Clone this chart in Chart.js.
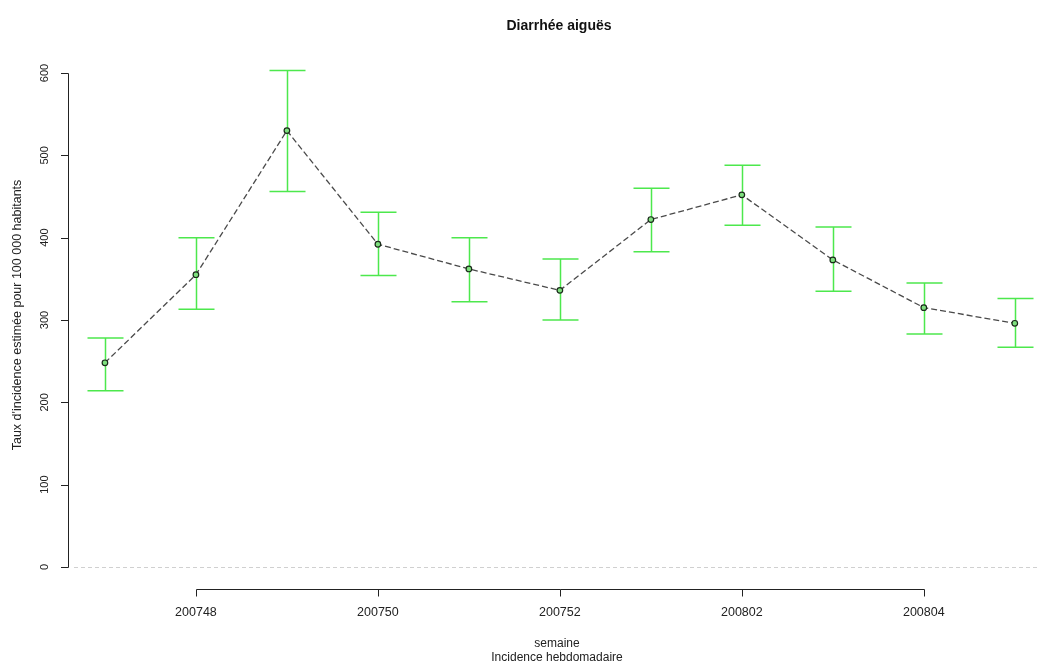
<!DOCTYPE html>
<html>
<head>
<meta charset="utf-8">
<script src="https://cdn.jsdelivr.net/npm/chart.js@4"></script>
<style>
  html, body { margin: 0; padding: 0; background: #fff; }
  #wrap { width: 1037px; height: 664px; }
</style>
</head>
<body>
<div id="wrap"><canvas id="chart"></canvas></div>
<script>
// data
const weeks = ['200747', '200748', '200749', '200750', '200751', '200752', '200801', '200802', '200803', '200804', '200805'];
const rate = [248, 355, 530, 392, 362, 336, 422, 452, 373, 315, 296];
const upper = [278, 400, 603, 431, 400, 374, 460, 488, 413, 345, 326];
const lower = [214, 313, 456, 354, 322, 300, 383, 415, 335, 283, 267];
const xTickLabels = ['200748', '200750', '200752', '200802', '200804'];
const yTicks = [0, 100, 200, 300, 400, 500, 600];

const title = 'Diarrhée aiguës';
const yTitle = "Taux d'incidence estimée pour 100 000 habitants";
const xTitle1 = 'semaine';
const xTitle2 = 'Incidence hebdomadaire';

const FONT = '"Liberation Sans", Arial, sans-serif';

// R style axes, error bars and titles
const rPlot = {
  id: 'rPlot',
  beforeDatasetsDraw(chart) {
    const ctx = chart.ctx;
    const x = chart.scales.x, y = chart.scales.y;
    ctx.save();
    // dashed zero line
    ctx.strokeStyle = '#d0d0d0';
    ctx.lineWidth = 1;
    ctx.setLineDash([4, 3]);
    ctx.beginPath();
    ctx.moveTo(chart.chartArea.left + 6, Math.round(y.getPixelForValue(0)) + 0.5);
    ctx.lineTo(1037, Math.round(y.getPixelForValue(0)) + 0.5);
    ctx.stroke();
    ctx.setLineDash([]);

    // error bars
    ctx.strokeStyle = '#4de84d';
    ctx.lineWidth = 1.5;
    weeks.forEach((w, i) => {
      const px = Math.round(x.getPixelForValue(i)) + 0.5;
      const top = y.getPixelForValue(upper[i]);
      const bot = y.getPixelForValue(lower[i]);
      ctx.beginPath();
      ctx.moveTo(px, top); ctx.lineTo(px, bot);
      ctx.moveTo(px - 18, top); ctx.lineTo(px + 18, top);
      ctx.moveTo(px - 18, bot); ctx.lineTo(px + 18, bot);
      ctx.stroke();
    });
    ctx.restore();
  },
  afterDraw(chart) {
    const ctx = chart.ctx;
    const x = chart.scales.x, y = chart.scales.y;
    const left = chart.chartArea.left;
    const bottom = chart.chartArea.bottom;
    ctx.save();
    ctx.strokeStyle = '#222';
    ctx.fillStyle = '#222';
    ctx.lineWidth = 1;

    // y axis
    const y0 = Math.round(y.getPixelForValue(yTicks[0])) + 0.5;
    const y1 = Math.round(y.getPixelForValue(yTicks[yTicks.length - 1])) + 0.5;
    ctx.beginPath();
    ctx.moveTo(left + 0.5, y0); ctx.lineTo(left + 0.5, y1);
    yTicks.forEach(v => {
      const py = Math.round(y.getPixelForValue(v)) + 0.5;
      ctx.moveTo(left + 0.5, py); ctx.lineTo(left - 7, py);
    });
    ctx.stroke();
    ctx.font = '11px ' + FONT;
    ctx.textAlign = 'center';
    ctx.textBaseline = 'middle';
    yTicks.forEach(v => {
      const py = y.getPixelForValue(v);
      ctx.save();
      ctx.translate(left - 23, py);
      ctx.rotate(-Math.PI / 2);
      ctx.fillText(String(v), 0, 0);
      ctx.restore();
    });

    // x axis
    const idx = xTickLabels.map(l => weeks.indexOf(l));
    const ax = Math.round(bottom + 2) + 0.5;
    ctx.beginPath();
    ctx.moveTo(Math.round(x.getPixelForValue(idx[0])) + 0.5, ax);
    ctx.lineTo(Math.round(x.getPixelForValue(idx[idx.length - 1])) + 0.5, ax);
    idx.forEach(i => {
      const px = Math.round(x.getPixelForValue(i)) + 0.5;
      ctx.moveTo(px, ax); ctx.lineTo(px, ax + 7);
    });
    ctx.stroke();
    ctx.font = '12.5px ' + FONT;
    idx.forEach((i, k) => {
      ctx.fillText(xTickLabels[k], x.getPixelForValue(i), ax + 23);
    });

    // axis titles
    ctx.font = '12px ' + FONT;
    ctx.fillText(xTitle1, 557, 644);
    ctx.fillText(xTitle2, 557, 658);
    ctx.font = '12.5px ' + FONT;
    ctx.save();
    ctx.translate(18, 315);
    ctx.rotate(-Math.PI / 2);
    ctx.fillText(yTitle, 0, 0);
    ctx.restore();

    // main title
    ctx.font = 'bold 14px ' + FONT;
    ctx.fillStyle = '#111';
    ctx.fillText(title, 559, 26);
    ctx.restore();
  }
};

new Chart(document.getElementById('chart'), {
  type: 'line',
  data: {
    datasets: [{
      data: rate.map((v, i) => ({ x: i, y: v })),
      borderColor: '#4a4a4a',
      borderWidth: 1.3,
      borderDash: [6, 3],
      pointRadius: 2.8,
      pointBorderWidth: 1.2,
      pointBorderColor: '#1a2a1a',
      pointBackgroundColor: '#7fe07f',
      tension: 0,
      fill: false
    }]
  },
  options: {
    responsive: true,
    maintainAspectRatio: false,
    animation: false,
    layout: { padding: { left: 68, right: 0, top: 51, bottom: 77 } },
    plugins: { legend: { display: false }, tooltip: { enabled: false }, title: { display: false } },
    scales: {
      x: { type: 'linear', display: false, min: -0.406, max: 10.187 },
      y: { type: 'linear', display: false, min: -24.3, max: 626.7 }
    }
  },
  plugins: [rPlot]
});
</script>
</body>
</html>
